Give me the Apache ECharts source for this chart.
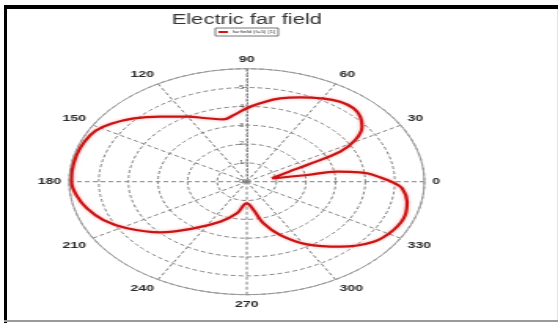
<!DOCTYPE html>
<html>
<head>
<meta charset="utf-8">
<script src="https://cdn.jsdelivr.net/npm/echarts@6/dist/echarts.min.js"></script>
<style>
  html, body { margin: 0; padding: 0; background: #fff; }
  body { width: 559px; height: 323px; position: relative; overflow: hidden; }
  #chart { position: absolute; left: 0; top: 0; width: 314px; height: 323px;
           transform: scaleX(1.5717); transform-origin: 0 0; }
  .bar { position: absolute; }
</style>
</head>
<body>
<div class="bar" style="left:4px;top:5px;width:554px;height:4px;background:#000"></div>
<div class="bar" style="left:4px;top:5px;width:3px;height:318px;background:#000"></div>
<div class="bar" style="left:4px;top:320px;width:554px;height:2px;background:#9a9a9a"></div>
<div class="bar" style="left:557px;top:9px;width:1px;height:311px;background:#e4e4e4"></div>
<div id="chart"></div>
<script>
// Far-field pattern: angle in degrees (0 = right, counter-clockwise), magnitude in ring units
const thetaDeg = [12.0, 20.5, 23.6, 26.8, 31.1, 36.9, 42.0, 47.2, 53.4, 60.7, 68.0, 75.7, 83.8,
  90.0, 97.5, 103.5, 111.8, 120.3, 130.2, 138.6, 146.1, 152.1, 159.3, 166.4, 174.9, 180.0,
  187.0, 194.7, 202.8, 211.4, 222.6, 234.0, 247.1, 258.8, 270.0, 278.7, 284.4, 291.8, 301.5,
  312.5, 323.4, 332.6, 341.7, 348.9, 356.2, 359.5, 2.6, 6.3, 8.55, 9.9, 9.9, 12.0];
const magnitude = [0.87, 1.53, 2.22, 3.54, 4.28, 4.87, 5.16, 5.31, 5.29, 5.08, 4.83, 4.57, 4.19,
  3.90, 3.55, 3.40, 3.63, 4.00, 4.52, 5.08, 5.52, 5.78, 5.88, 5.92, 5.93, 5.92,
  5.80, 5.58, 5.25, 4.74, 3.97, 3.06, 2.31, 1.71, 1.15, 1.52, 2.28, 3.05, 3.90,
  4.68, 5.34, 5.58, 5.64, 5.52, 5.26, 4.95, 4.55, 4.09, 3.54, 3.09, 2.07, 0.87];
const angleTicks = [0, 30, 60, 90, 120, 150, 180, 210, 240, 270, 300, 330];
const radiusMax = 6;
const seriesName = 'farfield (f=5) [1]';
const titleText = 'Electric far field';

// The angle axis starts at the top (90) so the radius scale runs up the 90 spoke.
const ANGLE_START = 90;
const wrap = a => (a < ANGLE_START ? a + 360 : a);
const lineData = thetaDeg.map((a, i) => [magnitude[i], wrap(a)]);

const chart = echarts.init(document.getElementById('chart'), null, { renderer: 'canvas' });
const font = 'Liberation Sans, Arial, sans-serif';
chart.setOption({
  animation: false,
  backgroundColor: 'transparent',
  title: {
    text: titleText,
    left: 'center',
    top: 8,
    textStyle: { fontFamily: font, fontSize: 14, fontWeight: 'normal', color: '#333' }
  },
  legend: {
    data: [seriesName],
    left: 'center',
    top: 28,
    padding: [2, 2],
    borderColor: '#777',
    borderWidth: 1,
    itemWidth: 6,
    itemHeight: 2,
    itemGap: 2,
    icon: 'rect',
    textStyle: { fontFamily: font, fontSize: 4, color: '#333', padding: [0, 0, 0, -2] }
  },
  polar: { center: ['50%', 181.7], radius: 113 },
  angleAxis: {
    type: 'value',
    min: ANGLE_START,
    max: ANGLE_START + 360,
    interval: 30,
    startAngle: ANGLE_START,
    clockwise: false,
    axisLine: { show: true, lineStyle: { color: '#9a9a9a', width: 1 } },
    axisTick: { show: false },
    axisLabel: {
      margin: 5,
      fontFamily: font, fontSize: 9, fontWeight: 'bold', color: '#2a2a2a',
      formatter: v => {
        const d = v % 360;
        return angleTicks.indexOf(d) >= 0 && v < ANGLE_START + 360 ? String(d) : '';
      }
    },
    splitLine: { show: true, lineStyle: { color: '#808080', width: 1, type: [3, 2] } }
  },
  radiusAxis: {
    type: 'value',
    min: 0,
    max: radiusMax,
    interval: 1,
    axisLine: { show: true, lineStyle: { color: '#808080', width: 1, type: [1, 2] } },
    axisTick: { show: false },
    axisLabel: {
      fontFamily: font, fontSize: 5, color: '#444', margin: 2,
      formatter: v => (v >= radiusMax ? '' : String(v))
    },
    splitLine: { show: true, lineStyle: { color: '#808080', width: 1, type: [3, 2] } }
  },
  series: [{
    name: seriesName,
    type: 'line',
    coordinateSystem: 'polar',
    data: lineData,
    showSymbol: false,
    smooth: 0.4,
    color: '#d01818',
    lineStyle: {
      color: '#c81414', width: 2.2, join: 'round',
      shadowColor: 'rgba(255,110,110,0.6)', shadowBlur: 3
    }
  }]
});
</script>
</body>
</html>
